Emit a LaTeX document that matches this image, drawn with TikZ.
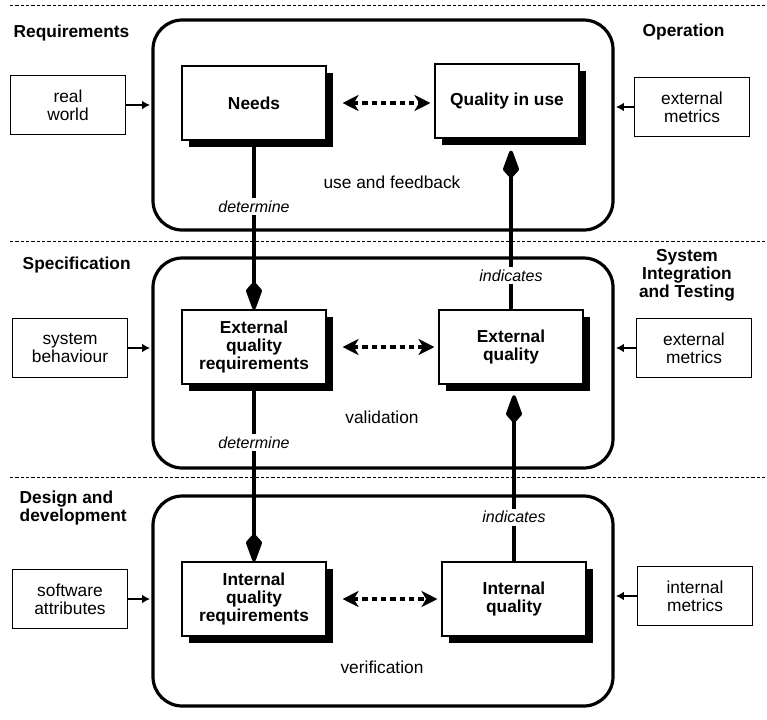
\documentclass[tikz,border=0pt]{standalone}
\usepackage{fontspec}
\setmainfont{Liberation Sans}
\usetikzlibrary{arrows.meta, shadows}

\begin{document}
\begin{tikzpicture}[x=0.75pt, y=-0.75pt,
    every node/.style={font=\fontsize{13}{13.5}\selectfont},
    stage/.style={draw, line width=2.4pt, rounded corners=22pt, minimum width=345pt, minimum height=157.5pt},
    quality/.style={draw, fill=white, line width=0.8pt, align=center, font=\fontsize{13}{13.5}\selectfont\bfseries,
        minimum width=108pt, minimum height=55.5pt,
        drop shadow={shadow xshift=5.5pt, shadow yshift=-5.5pt, fill=black, opacity=1}},
    source/.style={draw, line width=1pt, align=center, minimum width=86pt, minimum height=44pt},
    phase/.style={font=\fontsize{13}{13.5}\selectfont\bfseries, align=left},
    feed/.style={-{Latex[length=6pt, width=6.5pt]}, line width=1.1pt, shorten >=1pt},
    link/.style={{Stealth[length=12pt, width=12pt, inset=3.5pt]}-{Stealth[length=12pt, width=12pt, inset=3.5pt]},
        line width=3pt, dash pattern=on 4pt off 3pt},
    flow/.style={-{Kite[length=24pt, width=12.5pt, inset=7pt, round]}, line width=2.8pt},
    tag/.style={fill=white, font=\fontsize{12}{13}\selectfont\itshape, inner sep=2pt},
    divider/.style={line width=0.7pt, dash pattern=on 2.5pt off 1.5pt}]
    \useasboundingbox (0,0) rectangle (767,719);

    % phase dividers
    \coordinate (d1a) at (10,5);   \coordinate (d1b) at (767,5);
    \coordinate (d2a) at (10,241); \coordinate (d2b) at (767,241);
    \coordinate (d3a) at (10,477); \coordinate (d3b) at (767,477);
    \draw[divider] (d1a) -- (d1b);
    \draw[divider] (d2a) -- (d2b);
    \draw[divider] (d3a) -- (d3b);

    % phase names
    \node[phase, anchor=west] (req) at (9, 33) {Requirements};
    \node[phase, anchor=west] (oper) at (638, 32) {Operation};
    \node[phase, anchor=west] (spec) at (18, 265) {Specification};
    \node[phase, align=center] (sit) at (687, 275) {System\\Integration\\and Testing};
    \node[phase, anchor=west] (design) at (15, 508) {Design and\\development};

    % stages
    \node[stage] (opbox) at (383, 125) {};
    \node[stage] (specbox) at (383, 363) {};
    \node[stage] (devbox) at (383, 601) {};

    % quality views
    \node[quality] (needs) at (254, 103) {Needs};
    \node[quality] (inuse) at (507, 101) {Quality in use};
    \node[quality] (extreq) at (254, 347) {External\\quality\\requirements};
    \node[quality] (extq) at (511, 347) {External\\quality};
    \node[quality] (intreq) at (254, 599) {Internal\\quality\\requirements};
    \node[quality] (intq) at (514, 599) {Internal\\quality};

    % inputs
    \node[source] (realw) at (68, 105) {real\\world};
    \node[source] (extm) at (692, 107) {external\\metrics};
    \node[source] (sysb) at (70, 348) {system\\behaviour};
    \node[source] (extmb) at (694, 348) {external\\metrics};
    \node[source] (softa) at (70, 599) {software\\attributes};
    \node[source] (intm) at (695, 596) {internal\\metrics};

    \draw[feed] (realw) -- (realw -| opbox.west);
    \draw[feed] (extm) -- (extm -| opbox.east);
    \draw[feed] (sysb) -- (sysb -| specbox.west);
    \draw[feed] (extmb) -- (extmb -| specbox.east);
    \draw[feed] (softa) -- (softa -| devbox.west);
    \draw[feed] (intm) -- (intm -| devbox.east);

    % dashed links
    \draw[link, shorten <=12pt, shorten >=3pt] (needs.east) -- (needs.east -| inuse.west);
    \draw[link, shorten <=12pt, shorten >=3pt] (extreq) -- (extq);
    \draw[link, shorten <=12pt, shorten >=3pt] (intreq) -- (intq);

    % stage texts
    \node (usefb) at (392, 182) {use and feedback};
    \node (valid) at (382, 417) {validation};
    \node (verif) at (382, 667) {verification};

    % determine / indicates
    \draw[flow] (needs) -- node[tag, pos=0.39] {determine} (extreq);
    \draw[flow] (extreq) -- node[tag, pos=0.33] {determine} (intreq);
    \draw[flow, shorten >=9pt] (extq.north) -- node[tag, pos=0.2] {indicates} (extq.north |- inuse.south);
    \draw[flow, shorten >=8pt] (intq.north) -- node[tag, pos=0.25] {indicates} (intq.north |- extq.south);
\end{tikzpicture}
\end{document}
